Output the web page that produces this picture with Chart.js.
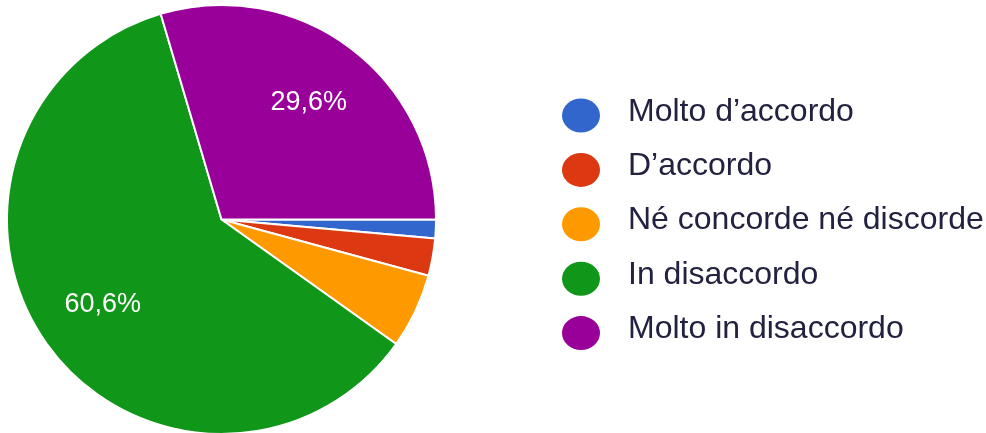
<!DOCTYPE html>
<html lang="it">
<head>
<meta charset="utf-8">
<title>Risposte</title>
<script src="https://cdn.jsdelivr.net/npm/chart.js@4.4.0/dist/chart.umd.min.js"></script>
<style>
    html, body { margin: 0; padding: 0; background: #fff; overflow: hidden; }
    #wrap { position: relative; width: 986px; height: 433px; overflow: hidden; }
</style>
</head>
<body>
<div id="wrap"><canvas id="risposte-chart" width="986" height="440"></canvas></div>
<script>
// --- Dati del grafico ---
const risposte = ['Molto d\u2019accordo', 'D\u2019accordo', 'N\u00e9 concorde n\u00e9 discorde', 'In disaccordo', 'Molto in disaccordo'];
const conteggi = [1, 2, 4, 43, 21];
const colori = ['#3366cc', '#dc3912', '#ff9900', '#109618', '#990099'];

const FONT = '"Liberation Sans", Arial, sans-serif';

// percentuali dentro le fette abbastanza grandi
const percentLabels = {
    id: 'percentLabels',
    afterDatasetsDraw(chart) {
        const ctx = chart.ctx;
        const meta = chart.getDatasetMeta(0);
        const values = chart.data.datasets[0].data;
        const total = values.reduce((a, b) => a + b, 0);
        ctx.save();
        ctx.font = '27px ' + FONT;
        ctx.fillStyle = '#ffffff';
        ctx.textAlign = 'center';
        ctx.textBaseline = 'middle';
        meta.data.forEach((arc, i) => {
            const pct = values[i] / total * 100;
            if (pct < 10) return;
            const p = arc.getProps(['x', 'y', 'startAngle', 'endAngle', 'outerRadius'], true);
            const mid = (p.startAngle + p.endAngle) / 2;
            const r = p.outerRadius * 0.68;
            const text = pct.toFixed(1).replace('.', ',') + '%';
            ctx.fillText(text, p.x + Math.cos(mid) * r, p.y + Math.sin(mid) * r);
        });
        ctx.restore();
    }
};

// legenda a destra con pallini
const sideLegend = {
    id: 'sideLegend',
    afterDraw(chart) {
        const ctx = chart.ctx;
        const ds = chart.data.datasets[0];
        const x = 581, y0 = 115.5, step = 54.4;
        ctx.save();
        ctx.font = '32px ' + FONT;
        ctx.textBaseline = 'alphabetic';
        chart.data.labels.forEach((label, i) => {
            const y = y0 + i * step;
            ctx.fillStyle = ds.backgroundColor[i];
            ctx.beginPath();
            ctx.ellipse(x, y, 19, 17, 0, 0, Math.PI * 2);
            ctx.fill();
            ctx.fillStyle = '#222240';
            ctx.fillText(label, 628, y + 5);
        });
        ctx.restore();
    }
};

new Chart(document.getElementById('risposte-chart'), {
    type: 'pie',
    data: {
        labels: risposte,
        datasets: [{
            data: conteggi,
            backgroundColor: colori,
            borderColor: '#ffffff',
            borderWidth: 2
        }]
    },
    options: {
        responsive: false,
        animation: false,
        rotation: 90,
        layout: { padding: { left: 6, right: 549, top: 4, bottom: 5 } },
        plugins: {
            legend: { display: false },
            tooltip: { enabled: false }
        }
    },
    plugins: [percentLabels, sideLegend]
});
</script>
</body>
</html>
